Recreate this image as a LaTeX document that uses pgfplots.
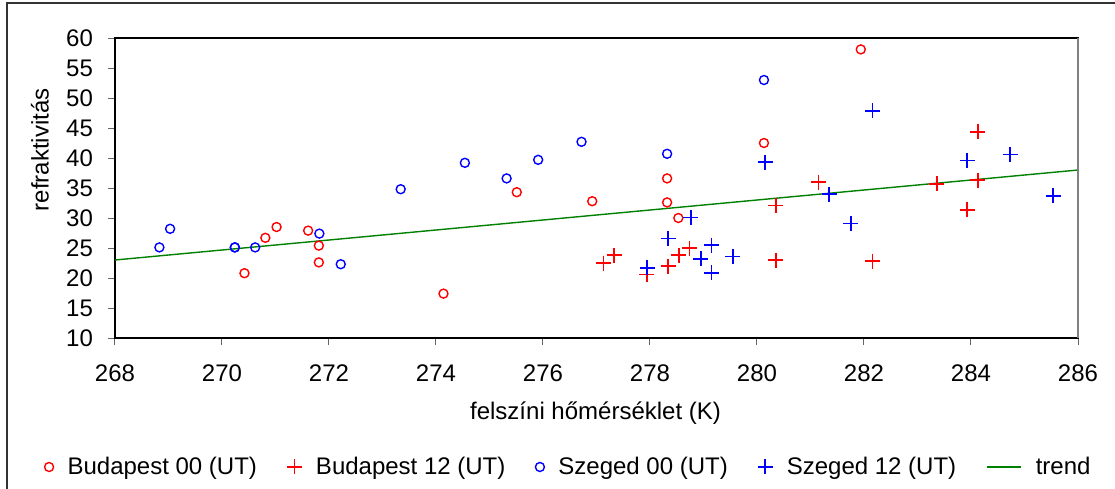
\documentclass[border=0pt]{standalone}
\usepackage{fontspec}
\setmainfont{Liberation Sans}
\usepackage{pgfplots}
\pgfplotsset{compat=1.18}
\usetikzlibrary{calc}
\definecolor{tgreen}{RGB}{0,128,0}
\begin{document}
\begin{tikzpicture}
\begin{axis}[name=ax, scale only axis, width=481.5pt, height=150pt,
  xmin=268, xmax=286, ymin=10, ymax=60,
  xtick={268,270,...,286}, ytick={10,15,...,60},
  tick align=outside, xtick pos=bottom, ytick pos=left,
  major tick length=3.5pt,
  tick style={black!60, line width=0.5pt},
  axis line style={black, line width=0.6pt},
  /pgf/number format/assume math mode=true,
  ticklabel style={font=\fontsize{12pt}{14pt}\selectfont},
  xticklabel style={yshift=-6.5pt},
  yticklabel style={xshift=-4pt},
  label style={font=\fontsize{12pt}{14pt}\selectfont},
  xlabel={felszíni hőmérséklet (K)}, ylabel={refraktivitás},
  xlabel style={at={(0.499,-0.25)}, anchor=center},
  ylabel style={at={(-0.078,0.627)}, anchor=center},
  legend style={at={(0.472,-0.43)}, anchor=center, draw=none, fill=none,
    legend columns=-1, font=\fontsize{12pt}{14pt}\selectfont,
    /tikz/every odd column/.append style={column sep=5pt},
    /tikz/every even column/.append style={column sep=13pt}},
]
\addplot[only marks, mark=o, red, mark size=2.25pt, line width=0.7pt, mark options={solid, draw=red}] coordinates {
(270.42,20.8) (270.81,26.7) (271.02,28.5) (271.61,27.9) (271.81,25.4) (271.81,22.6)
(274.14,17.4) (275.51,34.3) (276.92,32.8) (278.32,36.6) (278.32,32.6) (278.53,30.0)
(280.13,42.5) (281.94,58.1)};
\addlegendentry{Budapest 00 (UT)}
\addplot[only marks, mark=+, red, mark size=3.75pt, line width=0.9pt, mark options={solid, draw=red}] coordinates {
(277.13,22.5) (277.33,23.8) (277.94,20.6) (278.34,22.0) (278.54,23.8) (278.74,25.0)
(280.35,32.1) (280.35,23.0) (281.15,36.0) (282.16,22.8) (283.36,35.7) (283.93,31.4)
(284.13,44.4) (284.13,36.3)};
\addlegendentry{Budapest 12 (UT)}
\addplot[only marks, mark=o, blue, mark size=2.25pt, line width=0.7pt, mark options={solid, draw=blue}] coordinates {
(268.83,25.1) (269.03,28.2) (270.24,25.1) (270.24,25.1) (270.62,25.1) (271.82,27.4)
(272.22,22.3) (273.34,34.8) (274.54,39.2) (275.32,36.6) (275.91,39.7) (276.72,42.7)
(278.32,40.7) (280.13,53.0)};
\addlegendentry{Szeged 00 (UT)}
\addplot[only marks, mark=+, blue, mark size=3.75pt, line width=0.9pt, mark options={solid, draw=blue}] coordinates {
(277.95,21.7) (278.34,26.6) (278.76,30.1) (278.95,23.2) (279.15,25.5) (279.15,20.9)
(279.55,23.6) (280.15,39.3) (281.35,34.0) (281.75,29.1) (282.16,47.9) (283.93,39.6)
(284.73,40.6) (285.54,33.7)};
\addlegendentry{Szeged 12 (UT)}
\addplot[tgreen, line width=0.7pt, mark=none] coordinates {(268,23.0) (286,38.0)};
\addlegendentry{trend}
\end{axis}
\draw[gray, line width=0.8pt] (ax.south east) -- (ax.north east);
\draw[black!80, line width=0.6pt] ($(ax.south west)+(-54pt,-80pt)$) -- ($(ax.south west)+(-54pt,167.5pt)$) -- ($(ax.south west)+(510pt,167.5pt)$);
\pgfresetboundingbox
\path[use as bounding box] ($(ax.south west)+(-57.5pt,-75pt)$) rectangle ($(ax.south west)+(500pt,169pt)$);
\end{tikzpicture}
\end{document}
